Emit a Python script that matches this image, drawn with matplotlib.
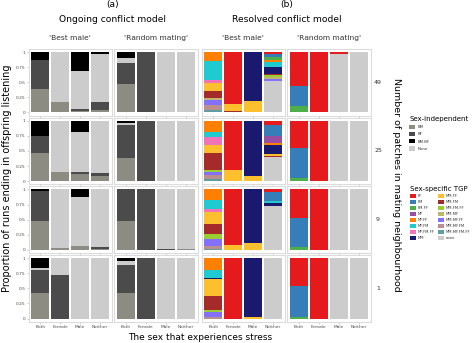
import matplotlib
matplotlib.use("Agg")
import matplotlib.pyplot as plt
from matplotlib.patches import Patch
import numpy as np

W, H = 474, 343
rows = ['49', '25', '9', '1']
sexes = ['Both', 'Female', 'Male', 'Neither']

# ---- Ongoing conflict model (sex-independent TGP) ----
ind_cats = ['BM', 'BF', 'BM.BF', 'None']
ind_stack = ['BM', 'BF', 'None', 'BM.BF']          # bottom -> top
ind_colors = {'BM': '#8c8c82', 'BF': '#4b4b4b', 'BM.BF': '#000000', 'None': '#cccccc'}

ongoing_best = {
    '49': {'BM': [0.389, 0.167, 0.028, 0.039], 'BF': [0.472, 0, 0.028, 0.128],
           'None': [0, 0.833, 0.622, 0.806], 'BM.BF': [0.139, 0, 0.322, 0.028]},
    '25': {'BM': [0.461, 0.156, 0.117, 0.083], 'BF': [0.289, 0, 0.039, 0.056],
           'None': [0, 0.844, 0.655, 0.861], 'BM.BF': [0.25, 0, 0.189, 0]},
    '9':  {'BM': [0.47, 0.03, 0.06, 0.02], 'BF': [0.50, 0, 0.01, 0.02],
           'None': [0, 0.97, 0.80, 0.96], 'BM.BF': [0.03, 0, 0.13, 0]},
    '1':  {'BM': [0.43, 0, 0, 0], 'BF': [0.38, 0.72, 0, 0],
           'None': [0.02, 0.28, 1, 1], 'BM.BF': [0.17, 0, 0, 0]},
}
ongoing_random = {
    '49': {'BM': [0.472, 0, 0, 0], 'BF': [0.35, 1, 0, 0],
           'None': [0.084, 0, 1, 1], 'BM.BF': [0.094, 0, 0, 0]},
    '25': {'BM': [0.378, 0, 0, 0], 'BF': [0.555, 1, 0, 0],
           'None': [0.028, 0, 1, 1], 'BM.BF': [0.039, 0, 0, 0]},
    '9':  {'BM': [0.47, 0, 0, 0.02], 'BF': [0.53, 1, 0.02, 0],
           'None': [0, 0, 0.98, 0.98], 'BM.BF': [0, 0, 0, 0]},
    '1':  {'BM': [0.428, 0, 0, 0], 'BF': [0.45, 1, 0, 0],
           'None': [0.078, 0, 1, 1], 'BM.BF': [0.044, 0, 0, 0]},
}

# ---- Resolved conflict model (sex-specific TGP) ----
spec_cats = ['FF', 'FM', 'FM.FF', 'MF', 'MF.FF', 'MF.FM', 'MF.FM.FF', 'MM',
             'MM.FF', 'MM.FM', 'MM.FM.FF', 'MM.MF', 'MM.MF.FF', 'MM.MF.FM',
             'MM.MF.FM.FF', 'none']
spec_colors = ['#e41a1c', '#377eb8', '#4daf4a', '#984ea3', '#ff7f00', '#1fcbcf',
               '#f274b8', '#191970', '#fcc02e', '#a52a2a', '#9acd32', '#bdb76b',
               '#8470ff', '#bc8f8f', '#5f9ea0', '#cccccc']

resolved_best = {
    '49': {'FF': [0, 0.861, 0, 0.039], 'FM': [0, 0, 0, 0.044], 'FM.FF': [0, 0, 0, 0.044],
           'MF.FF': [0.15, 0, 0, 0.039], 'MF.FM': [0.306, 0, 0, 0.083],
           'MF.FM.FF': [0.061, 0, 0, 0], 'MM': [0, 0, 0.806, 0.111],
           'MM.FF': [0.133, 0.111, 0.194, 0], 'MM.FM': [0.117, 0.028, 0, 0.022],
           'MM.FM.FF': [0, 0, 0, 0.033], 'MM.MF': [0.028, 0, 0, 0.033],
           'MM.MF.FF': [0.083, 0, 0, 0.039], 'MM.MF.FM': [0.078, 0, 0, 0],
           'MM.MF.FM.FF': [0.044, 0, 0, 0], 'none': [0, 0, 0, 0.513]},
    '25': {'FF': [0, 0.82, 0, 0.067], 'FM': [0, 0, 0, 0.178], 'MF': [0, 0, 0, 0.128],
           'MF.FF': [0.19, 0, 0, 0.028], 'MF.FM': [0.08, 0, 0, 0],
           'MF.FM.FF': [0.13, 0, 0, 0], 'MM': [0, 0, 0.92, 0.156],
           'MM.FF': [0.14, 0.18, 0.08, 0.022], 'MM.FM': [0.27, 0, 0, 0.017],
           'MM.FM.FF': [0.03, 0, 0, 0], 'MM.MF.FF': [0.06, 0, 0, 0],
           'MM.MF.FM': [0.07, 0, 0, 0], 'MM.MF.FM.FF': [0.03, 0, 0, 0],
           'none': [0, 0, 0, 0.404]},
    '9':  {'FF': [0, 0.92, 0, 0.045], 'FM': [0, 0, 0, 0.14], 'MF.FF': [0.176, 0, 0, 0],
           'MF.FM': [0.148, 0, 0, 0.04], 'MF.FM.FF': [0.044, 0, 0, 0],
           'MM': [0, 0, 0.89, 0.055], 'MM.FF': [0.203, 0.08, 0.11, 0],
           'MM.FM': [0.171, 0, 0, 0], 'MM.FM.FF': [0.077, 0, 0, 0],
           'MM.MF.FF': [0.115, 0, 0, 0], 'MM.MF.FM': [0.05, 0, 0, 0],
           'MM.MF.FM.FF': [0.016, 0, 0, 0], 'none': [0, 0, 0, 0.72]},
    '1':  {'FF': [0, 1, 0, 0], 'MF.FF': [0.189, 0, 0, 0], 'MF.FM': [0.133, 0, 0, 0],
           'MM': [0.028, 0, 0.98, 0], 'MM.FF': [0.283, 0, 0.02, 0],
           'MM.FM': [0.233, 0, 0, 0], 'MM.FM.FF': [0.033, 0, 0, 0],
           'MM.MF.FF': [0.067, 0, 0, 0], 'MM.MF.FM': [0.034, 0, 0, 0],
           'none': [0, 0, 0, 1]},
}
resolved_random = {
    '49': {'FF': [0.556, 1, 0.028, 0], 'FM': [0.333, 0, 0, 0], 'FM.FF': [0.111, 0, 0, 0],
           'none': [0, 0, 0.972, 1]},
    '25': {'FF': [0.444, 1, 0, 0], 'FM': [0.5, 0, 0, 0], 'FM.FF': [0.056, 0, 0, 0],
           'none': [0, 0, 1, 1]},
    '9':  {'FF': [0.47, 1, 0, 0], 'FM': [0.48, 0, 0, 0], 'FM.FF': [0.05, 0, 0, 0],
           'none': [0, 0, 1, 1]},
    '1':  {'FF': [0.467, 1, 0, 0], 'FM': [0.511, 0, 0, 0], 'FM.FF': [0.022, 0, 0, 0],
           'none': [0, 0, 1, 1]},
}

y_ticks = [0, 0.25, 0.5, 0.75, 1]
y_ticklabels = ['0', '0.25', '0.5', '0.75', '1']

fig = plt.figure(figsize=(W / 100, H / 100), dpi=100)
fig.patch.set_facecolor('white')

col_left = [28.5, 114.0, 201.5, 287.0]
col_w = 83.5
row_top = [49.0, 117.7, 186.4, 255.1]
row_h = 66.5

panels = [(ongoing_best, 'ind'), (ongoing_random, 'ind'),
          (resolved_best, 'spec'), (resolved_random, 'spec')]

x = np.arange(len(sexes))
for ri, r in enumerate(rows):
    for ci, (data, kind) in enumerate(panels):
        ax = fig.add_axes([col_left[ci] / W, 1 - (row_top[ri] + row_h) / H,
                           col_w / W, row_h / H])
        d = data[r]
        bottom = np.zeros(len(sexes))
        if kind == 'ind':
            order = ind_stack
            cols = [ind_colors[c] for c in order]
        else:
            order = spec_cats[::-1]
            cols = spec_colors[::-1]
        for c, col in zip(order, cols):
            v = np.array(d.get(c, [0, 0, 0, 0]), dtype=float)
            ax.bar(x, v, bottom=bottom, width=0.9, color=col, linewidth=0)
            bottom += v
        ax.set_xlim(-0.6, 3.6)
        ax.set_ylim(-0.05, 1.05)
        ax.set_facecolor('white')
        for s in ax.spines.values():
            s.set_color('#dcdcdc')
            s.set_linewidth(0.8)
        ax.tick_params(length=1.5, width=0.5, color='#bbbbbb', pad=0.8,
                       labelsize=3.2, labelcolor='#4d4d4d')
        ax.set_xticks(x)
        if ri == 3:
            ax.set_xticklabels(sexes)
        else:
            ax.set_xticklabels([])
        ax.set_yticks(y_ticks)
        if ci == 0:
            ax.set_yticklabels(y_ticklabels)
        else:
            ax.set_yticklabels([])
            ax.tick_params(axis='y', length=0)
        if ci == 3:
            fig.text(378 / W, 1 - (row_top[ri] + row_h / 2) / H, r,
                     fontsize=4.5, ha='center', va='center', color='#333333')

# Titles
def ftext(px, py, s, **kw):
    fig.text(px / W, 1 - py / H, s, ha='center', va='center', **kw)

ftext(112.5, 5, '(a)', fontsize=6.6)
ftext(112.5, 19, 'Ongoing conflict model', fontsize=6.6)
ftext(287.0, 5, '(b)', fontsize=6.6)
ftext(287.0, 19, 'Resolved conflict model', fontsize=6.6)
for ci, lab in enumerate(["'Best male'", "'Random mating'", "'Best male'", "'Random mating'"]):
    ftext(col_left[ci] + col_w / 2, 38, lab, fontsize=5.4, color='#333333')

ftext(7, 178, 'Proportion of runs ending in offspring listening', fontsize=7.0, rotation=90)
ftext(397, 185, 'Number of patches in mating neighbourhood', fontsize=6.8, rotation=270)
ftext(200, 338, 'The sex that experiences stress', fontsize=6.5)

# Legends
h1 = [Patch(facecolor=ind_colors[c], edgecolor='none', label=c) for c in ind_cats]
fig.legend(handles=h1, title='Sex-independent', loc='upper left',
           bbox_to_anchor=(409 / W, 1 - 116 / H), frameon=False, fontsize=2.8,
           title_fontsize=5.0, handlelength=1.41, handleheight=1.41, labelspacing=0.64,
           handletextpad=0.7, alignment='left', borderaxespad=0, borderpad=0.1,
           labelcolor='#333333')

h2 = [Patch(facecolor=col, edgecolor='none', label=c) for c, col in zip(spec_cats, spec_colors)]
fig.legend(handles=h2, title='Sex-specific TGP', loc='upper left', ncol=2,
           bbox_to_anchor=(410 / W, 1 - 186 / H), frameon=False, fontsize=2.7,
           title_fontsize=5.0, handlelength=1.45, handleheight=1.33, labelspacing=0.43,
           handletextpad=0.6, columnspacing=0.9, alignment='left',
           borderaxespad=0, borderpad=0.1, labelcolor='#333333')

fig.savefig('out.png', dpi=100, facecolor='white')
